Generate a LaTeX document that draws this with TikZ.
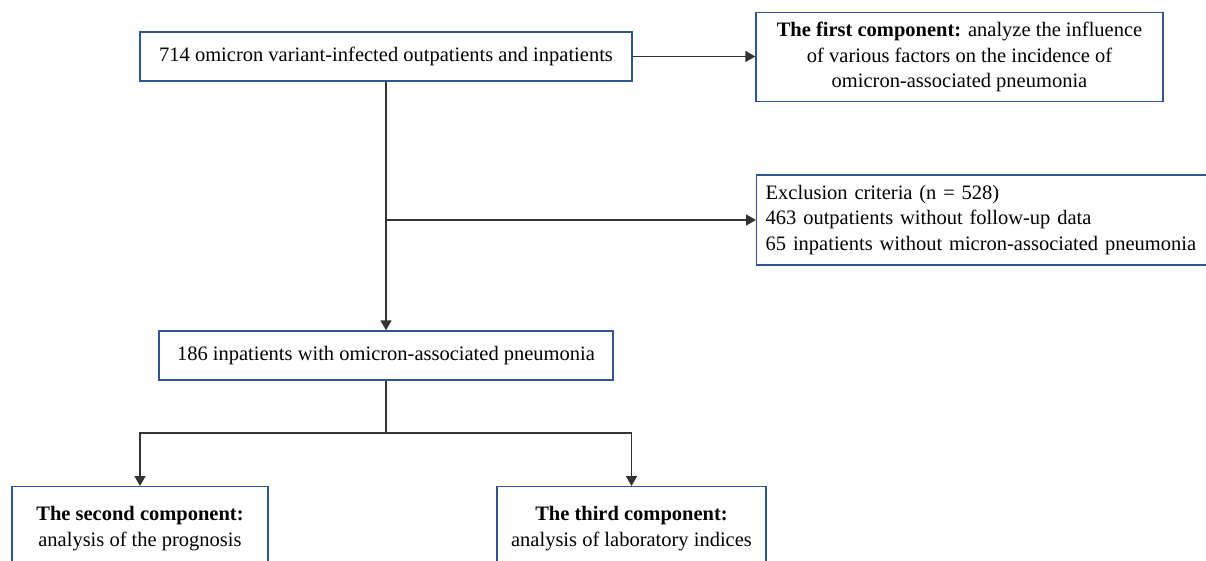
\documentclass[tikz,border=0pt]{standalone}
\usepackage{fontspec}
\setmainfont{Liberation Serif}
\usetikzlibrary{arrows.meta}
\definecolor{boxblue}{HTML}{2F5597}
\definecolor{linegray}{HTML}{333333}
\begin{document}
\begin{tikzpicture}[x=1pt,y=-1pt,
  box/.style={draw=boxblue,line width=1.4pt,inner sep=0pt,align=center,
    font=\fontsize{20.5}{25.5}\selectfont},
  conn/.style={draw=linegray,line width=1.7pt},
  arr/.style={conn,-{Triangle[length=10pt,width=11pt]}}]
\useasboundingbox (0,0) rectangle (1206,561);
\node[box,minimum width=492pt,minimum height=49pt] (A) at (386,56.5)
  {714 omicron variant-infected outpatients and inpatients};
\node[box,minimum width=407pt,minimum height=89pt] (B) at (959.5,57)
  {\textbf{The first component:} analyze the influence\\of various factors on the incidence of\\omicron-associated pneumonia};
\node[box,align=left,text width=441pt,inner xsep=9pt,minimum height=90pt,anchor=west] (C) at (756,220)
  {Exclusion criteria (n = 528)\\463 outpatients without follow-up data\\65 inpatients without micron-associated pneumonia};
\node[box,minimum width=454pt,minimum height=49pt] (D) at (386,355.5)
  {186 inpatients with omicron-associated pneumonia};
\node[box,minimum width=256pt,minimum height=84pt,anchor=north] (E) at (140,486)
  {\textbf{The second component:}\\analysis of the prognosis};
\node[box,minimum width=269pt,minimum height=84pt,anchor=north] (F) at (631.5,486)
  {\textbf{The third component:}\\analysis of laboratory indices};
\draw[arr] (A.east) -- (A.east -| B.west);
\draw[arr] (A.south) -- (D.north);
\coordinate (split) at (A.south |- C.west);
\draw[arr] (split) -- (C.west);
\coordinate (fork) at (386,433);
\draw[conn] (D.south) -- (fork);
\draw[arr] (fork) -| (E.north);
\draw[arr] (fork) -| (F.north);
\end{tikzpicture}
\end{document}
